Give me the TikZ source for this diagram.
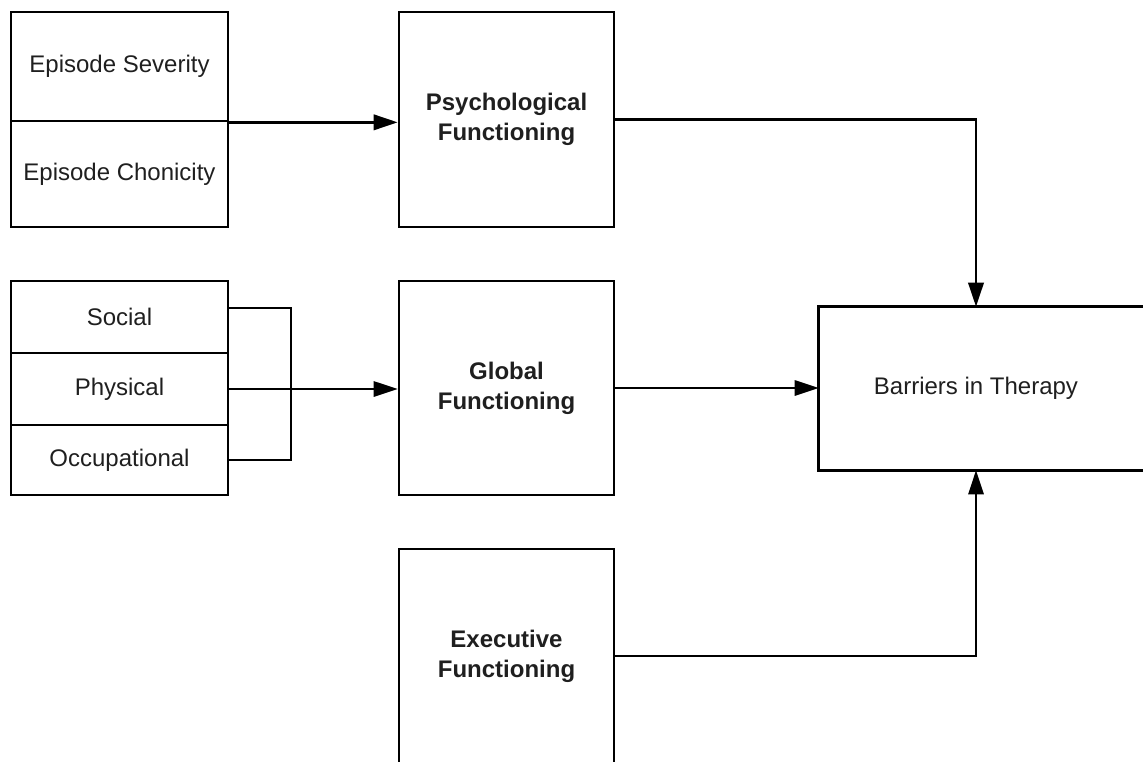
\documentclass[tikz,border=0pt]{standalone}
\usepackage{fontspec}
\setmainfont{Liberation Sans}
\usetikzlibrary{arrows.meta,calc}
\begin{document}
\begin{tikzpicture}[x=0.75pt,y=-0.75pt,
  box/.style={draw, line width=2pt, inner sep=0pt, align=center, text=black!88,
    font={\fontsize{18pt}{22.5pt}\selectfont}},
  boldbox/.style={box, font={\fontsize{18pt}{22.5pt}\selectfont\bfseries}},
  boxline/.style={line width=2pt},
  conthick/.style={line width=2pt},
  conthin/.style={line width=1.5pt},
  tip/.style={-{Triangle[length=18pt,width=11.5pt]}}]
\useasboundingbox (0,0) rectangle (1143,761);
\clip (0,0) rectangle (1143,761);

% left column
\node[box, minimum width=162.75pt, minimum height=81.75pt] (sev) at (119.5,66.5) {Episode Severity};
\node[box, minimum width=162.75pt, minimum height=79.5pt] (chr) at (119.5,174) {Episode Chonicity};
\node[box, minimum width=162.75pt, minimum height=54pt] (soc) at (119.5,317) {Social};
\node[box, minimum width=162.75pt, minimum height=54pt] (phy) at (119.5,389) {Physical};
\node[box, minimum width=162.75pt, minimum height=52.5pt] (occ) at (119.5,460) {Occupational};

% middle column
\node[boldbox, minimum width=161.25pt, minimum height=161.25pt] (psy) at (506.5,119.5) {Psychological\\Functioning};
\node[boldbox, minimum width=161.25pt, minimum height=160.5pt] (glob) at (506.5,388) {Global\\Functioning};
\node[boldbox, minimum width=161.25pt, minimum height=160.5pt] (exe) at (506.5,656) {Executive\\Functioning};

% right box (cut off at the right edge)
\node[box, draw=none, minimum width=234pt, minimum height=120.75pt] (bar) at (976,388.5) {Barriers in Therapy};
\draw[boxline] ($(bar.north west)+(400,0)$) -- (bar.north west) -- (bar.south west) -- ++(400,0);

% connectors
\coordinate (bk) at (291,0);
\draw[conthick, tip] (sev.south east) -- (sev.south east -| psy.west);
\draw[conthick, tip] (psy.east) -| (bar.north);
\draw[conthin] ($(soc.east)+(0,-9)$) -| (bk |- occ.east) -- (occ.east);
\draw[conthin, tip] (phy.east) -- (phy.east -| glob.west);
\draw[conthin, tip] (glob.east) -- (glob.east -| bar.west);
\draw[conthin, tip] (exe.east) -| (bar.south);
\end{tikzpicture}
\end{document}
